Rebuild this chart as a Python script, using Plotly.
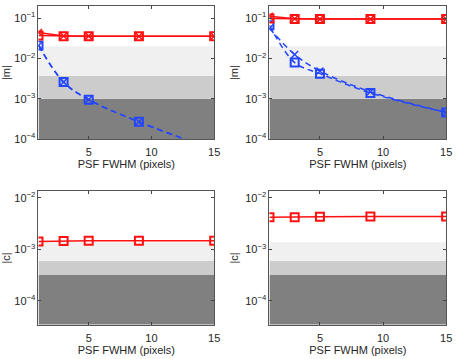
import plotly.graph_objects as go
from plotly.subplots import make_subplots

# PSF FWHM values (pixels)
psf = [1, 3, 5, 9, 15]

# top-left |m|
m1_red_sq = [0.0368, 0.0356, 0.0355, 0.0355, 0.0353]
m1_red_x = [0.044, 0.0358, 0.0356, 0.0355, 0.0353]
m1_blue_sq = [0.021, 0.0026, 0.00095, 0.00027, 0.000055]
m1_blue_x = [0.021, 0.0026, 0.00096, 0.00027, 0.000055]

# top-right |m|
m2_red_sq = [0.097, 0.095, 0.094, 0.094, 0.094]
m2_red_x = [0.11, 0.096, 0.094, 0.094, 0.094]
m2_blue_sq = [0.066, 0.0079, 0.0042, 0.0014, 0.00046]
m2_blue_x = [0.056, 0.0125, 0.0049, 0.0015, 0.00046]

# bottom |c|
c1_red_sq = [0.00142, 0.00145, 0.00147, 0.00147, 0.00147]
c2_red_sq = [0.0042, 0.0042, 0.0043, 0.00435, 0.00435]

# shaded requirement bands (lower, upper)
m_bands = [(1e-6, 1e-3, "#808080"), (1e-3, 3.7e-3, "#cccccc"), (3.7e-3, 2e-2, "#f0f0f0")]
c_bands = [(1e-6, 3.2e-4, "#808080"), (3.2e-4, 6e-4, "#cccccc"), (6e-4, 1.38e-3, "#f0f0f0")]

# log tick labels
y_ticks = [1e-4, 1e-3, 1e-2, 1e-1]
y_ticktext = ["10<sup>\u22124</sup>", "10<sup>\u22123</sup>", "10<sup>\u22122</sup>", "10<sup>\u22121</sup>"]

RED = "#ff1010"
BLUE = "#2446ff"

fig = make_subplots(rows=2, cols=2)


def add_bands(bands, row, col):
    for lo, hi, colour in bands:
        fig.add_trace(go.Scatter(x=[1, 15, 15, 1], y=[lo, lo, hi, hi], fill="toself",
                                 fillcolor=colour, mode="none", hoverinfo="skip",
                                 showlegend=False), row=row, col=col)


def add_series(y, colour, symbol, dash, row, col, spline=False):
    fig.add_trace(go.Scatter(
        x=psf, y=y, mode="lines+markers", showlegend=False,
        line=dict(color=colour, width=1.5, dash=dash,
                  shape="spline" if spline else "linear"),
        marker=dict(symbol=symbol, size=8 if symbol == "square-open" else 7,
                    color=colour, line=dict(width=2 if symbol == "square-open" else 1.5, color=colour)),
    ), row=row, col=col)


add_bands(m_bands, 1, 1)
add_bands(m_bands, 1, 2)
add_bands(c_bands, 2, 1)
add_bands(c_bands, 2, 2)

add_series(m1_blue_x, BLUE, "x-thin-open", "6px,4px", 1, 1, spline=True)
add_series(m1_blue_sq, BLUE, "square-open", "6px,4px", 1, 1, spline=True)
add_series(m1_red_x, RED, "x-thin-open", "solid", 1, 1)
add_series(m1_red_sq, RED, "square-open", "solid", 1, 1)

add_series(m2_blue_x, BLUE, "x-thin-open", "6px,4px", 1, 2, spline=True)
add_series(m2_blue_sq, BLUE, "square-open", "6px,4px", 1, 2, spline=True)
add_series(m2_red_x, RED, "x-thin-open", "solid", 1, 2)
add_series(m2_red_sq, RED, "square-open", "solid", 1, 2)

add_series(c1_red_sq, RED, "square-open", "solid", 2, 1)
add_series(c2_red_sq, RED, "square-open", "solid", 2, 2)

W, H = 463, 359
xdoms = [[39 / W, 217 / W], [273 / W, 452 / W]]
ydoms = [[1 - 141 / H, 1 - 5 / H], [1 - 330 / H, 1 - 194 / H]]

axis_font = dict(family="Liberation Sans, Arial, sans-serif", size=11, color="#262626")
for r in range(2):
    for c in range(2):
        i = r * 2 + c + 1
        sfx = "" if i == 1 else str(i)
        fig.layout["xaxis" + sfx].update(
            domain=xdoms[c], range=[1, 15], tickvals=[5, 10, 15],
            ticks="inside", ticklen=3, mirror="ticks", showline=True,
            linecolor="#555555", linewidth=1, showgrid=False, zeroline=False,
            ticklabeloverflow="allow", ticklabelstandoff=3,
            tickfont=axis_font, title=dict(text="PSF FWHM (pixels)", font=axis_font, standoff=0),
        )
        fig.layout["yaxis" + sfx].update(
            domain=ydoms[r], type="log",
            range=[-4, -0.7] if r == 0 else [-4.46, -1.87],
            tickvals=y_ticks, ticktext=y_ticktext,
            ticks="inside", ticklen=3, mirror="ticks", showline=True,
            linecolor="#555555", linewidth=1, showgrid=False, zeroline=False,
            tickfont=axis_font, title=dict(text="|m|" if r == 0 else "|c|", font=axis_font, standoff=4),
        )

fig.update_layout(width=W, height=H, margin=dict(l=0, r=0, t=0, b=0),
                  plot_bgcolor="white", paper_bgcolor="white")

# page body has an 8px default margin; drop it so the figure sits at the window origin
fig.write_html("out.html", config={"displayModeBar": False},
               post_script="document.body.style.margin='0';")
